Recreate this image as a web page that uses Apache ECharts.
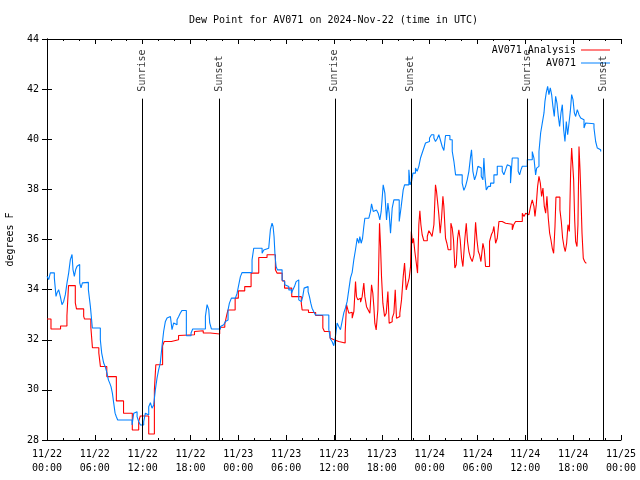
<!DOCTYPE html>
<html>
<head>
<meta charset="utf-8">
<script src="https://cdn.jsdelivr.net/npm/echarts@6/dist/echarts.min.js"></script>
<style>html,body{margin:0;padding:0;background:#fff}#c{width:640px;height:480px}</style>
</head>
<body>
<div id="c"></div>
<script>
// hours since 2024-11-22 00:00 UTC
const xTickDays = ['11/22','11/22','11/22','11/22','11/23','11/23','11/23','11/23','11/24','11/24','11/24','11/24','11/25'];
const xTickTimes = ['00:00','06:00','12:00','18:00','00:00','06:00','12:00','18:00','00:00','06:00','12:00','18:00','00:00'];

const redHours = [0,0.5,1.7,2.5,2.7,3.55,3.7,4.6,4.7,5.5,5.7,6.5,6.7,7.5,8.7,9.6,10.7,11.5,11.7,12.76,13.47,13.65,14.5,14.7,15.6,16.5,16.7,18.5,18.7,19.6,20.5,21.66,21.8,22.3,22.55,22.7,23.6,24.0,24.8,25.6,26.56,27.6,28.65,28.85,29.5,29.8,30.7,31.9,32.0,32.8,33.7,34.6,34.8,35.5,35.7,36.0,36.6,37.4,37.57,37.74,37.86,38.07,38.28,38.49,38.7,38.82,38.99,39.16,39.33,39.53,39.74,39.87,40.08,40.29,40.5,40.71,40.87,41.0,41.12,41.29,41.5,41.71,41.84,41.96,42.13,42.34,42.55,42.76,42.92,43.09,43.3,43.51,43.68,43.84,44.05,44.26,44.47,44.68,44.85,45.06,45.27,45.43,45.6,45.7,45.85,45.97,46.14,46.3,46.48,46.64,46.77,46.9,47.06,47.27,47.7,47.9,48.1,48.3,48.53,48.73,48.86,49.03,49.15,49.32,49.49,49.66,49.78,49.99,50.16,50.33,50.66,50.83,50.99,51.16,51.33,51.5,51.66,51.83,52.0,52.17,52.42,52.59,52.75,52.92,53.13,53.34,53.55,53.76,53.93,54.1,54.26,54.43,54.68,54.85,55.01,55.51,55.76,55.93,56.06,56.27,56.48,56.69,57.1,57.52,58.36,58.57,58.78,59.62,59.83,60.04,60.24,60.45,60.66,60.87,61.08,61.21,61.37,61.54,61.71,61.88,62.04,62.21,62.38,62.55,62.71,62.88,63.05,63.21,63.38,63.55,63.72,63.84,64.34,64.51,64.68,64.85,65.01,65.18,65.35,65.52,65.68,65.81,65.93,66.06,66.19,66.31,66.48,66.6,66.73,66.86,66.98,67.11,67.27,67.44,67.65];
const redValues = [32.83,32.43,32.55,32.96,34.16,33.47,33.23,32.93,32.83,32.5,31.68,31.47,30.93,30.53,29.56,29.07,28.4,28.73,28.96,28.24,30.0,31.0,31.76,31.93,32.0,32.17,32.2,32.33,32.36,32.27,32.23,32.4,32.5,32.62,32.99,33.19,33.66,33.95,34.12,34.66,35.28,35.39,34.79,34.66,34.35,34.06,33.72,33.45,33.19,33.09,32.97,32.47,32.33,32.07,32.0,31.93,31.87,32.27,33.4,33.2,33.06,33.1,32.86,33.12,34.32,33.72,33.6,33.66,33.5,33.72,34.26,33.72,33.32,33.19,33.06,34.19,33.86,33.32,32.66,32.39,33.2,36.65,35.72,34.52,33.46,32.93,33.06,33.92,32.66,32.72,32.86,33.06,33.99,32.86,32.93,33.06,33.59,34.52,35.06,33.99,34.26,34.46,34.92,36.32,35.85,36.05,35.52,35.12,34.66,36.59,37.15,36.59,36.19,35.95,36.12,36.35,36.25,36.12,36.59,38.18,37.92,37.38,36.99,36.25,36.85,37.72,37.32,36.05,35.85,35.59,36.65,36.45,35.99,34.86,34.99,36.05,36.39,35.99,35.26,34.92,36.05,36.65,35.92,35.52,35.26,35.12,35.39,36.69,35.99,35.52,35.39,35.12,35.85,35.59,34.92,35.92,36.21,36.32,36.52,35.85,36.05,36.72,36.65,36.61,36.39,36.61,36.72,37.05,36.92,37.05,36.99,37.05,37.32,37.58,37.32,36.92,37.38,38.12,38.52,38.25,37.72,38.05,37.32,37.05,37.72,36.85,36.25,35.99,35.65,35.45,36.52,37.69,37.18,36.72,36.05,35.72,35.52,35.85,36.59,36.32,38.65,39.65,39.05,38.38,36.78,35.92,35.72,36.59,39.71,38.78,37.65,36.25,35.25,35.12,35.05];

const blueHours = [0,0.21,0.42,0.92,1.13,1.26,1.46,1.67,1.88,2.09,2.3,2.51,2.72,2.93,3.14,3.26,3.43,3.6,3.77,3.93,4.1,4.27,4.44,4.6,5.19,5.44,5.69,6.69,6.86,7.11,7.32,7.53,7.7,7.87,8.03,8.2,8.37,8.54,8.7,8.87,10.67,10.88,11.09,11.3,11.51,11.72,12.13,12.34,12.55,12.76,12.97,13.17,13.38,13.59,13.8,14.0,14.21,14.42,14.63,14.85,15.06,15.27,15.48,15.68,15.89,16.1,16.31,16.52,16.73,16.94,17.48,18.07,18.28,19.87,20.08,20.29,20.41,20.62,21.75,21.96,22.17,22.38,22.55,22.71,22.88,23.13,23.63,23.84,24.05,24.26,24.47,25.72,25.93,26.98,27.19,27.4,27.81,28.02,28.23,28.36,28.48,28.61,28.74,28.9,29.49,29.66,29.82,29.99,30.33,30.66,30.83,31.04,31.25,31.41,31.58,31.71,31.91,32.08,32.25,32.5,32.75,32.92,33.09,33.25,33.46,33.67,35.35,35.55,35.76,35.97,36.18,36.39,36.6,36.81,37.02,37.23,37.44,37.65,37.86,38.07,38.28,38.49,38.7,38.91,39.12,39.24,39.41,39.58,39.74,39.87,40.37,40.58,40.71,40.92,41.12,41.33,41.54,41.75,41.92,42.17,42.38,42.59,42.76,42.92,43.09,43.3,43.51,44.18,44.43,44.68,44.85,45.39,45.55,45.73,45.9,46.22,46.43,46.64,46.85,47.06,47.27,47.48,47.69,47.98,48.23,48.53,48.73,48.94,49.15,49.36,49.57,49.78,49.99,50.54,50.83,51.04,51.25,52.08,52.29,52.5,52.71,52.92,53.13,53.25,53.42,53.63,53.84,54.05,54.26,54.47,54.68,54.8,54.93,55.1,55.35,55.64,56.06,56.48,57.1,57.31,57.52,57.73,57.93,58.14,58.36,59.1,59.28,59.45,59.62,60.24,60.87,61.08,61.29,61.42,61.58,61.71,61.92,62.13,62.34,62.46,62.63,62.8,62.96,63.13,63.3,63.46,63.63,63.8,63.97,64.14,64.3,64.47,64.64,64.81,64.97,65.14,65.31,65.48,65.64,65.81,65.98,66.15,66.31,66.52,66.73,66.94,67.15,67.36,67.57,67.78,68.61,68.82,69.03,69.24,69.45];
const blueValues = [34.53,34.4,34.67,34.47,33.73,33.87,34.0,33.73,33.4,33.53,33.8,34.27,34.67,35.2,35.4,34.8,34.53,34.8,34.93,35.0,34.27,34.07,34.27,34.29,34.0,33.33,32.47,32.0,31.47,31.07,30.91,30.67,30.4,30.27,30.13,29.87,29.47,29.07,28.93,28.8,28.6,29.07,29.13,28.93,28.73,28.6,28.73,29.07,29.0,29.33,29.49,29.27,29.4,30.0,30.47,30.8,31.07,31.73,32.33,32.73,32.87,32.93,33.0,32.4,32.67,32.6,32.8,32.93,33.07,33.17,32.16,32.27,32.43,32.93,33.4,33.2,32.67,32.43,32.53,32.6,32.53,32.73,32.79,33.19,33.46,33.66,33.72,33.85,34.19,34.52,34.68,35.19,35.65,35.45,35.58,35.65,35.68,36.39,36.65,36.52,36.12,35.32,34.92,34.79,34.39,34.32,34.19,34.12,33.99,33.85,33.99,34.12,34.32,34.39,33.59,33.52,33.46,33.72,34.06,34.12,33.92,33.72,33.46,33.26,33.12,32.99,32.4,32.03,31.93,31.76,32.13,32.67,32.53,32.4,32.73,33.07,33.27,33.53,34.0,34.47,34.69,35.2,35.6,36.05,35.85,36.12,35.85,36.05,36.52,36.85,36.92,37.12,37.42,37.12,37.18,37.12,37.05,36.78,37.12,38.18,37.85,36.78,37.45,37.05,36.25,37.25,37.58,36.72,37.32,37.98,38.18,38.78,38.18,38.32,38.65,38.85,38.72,38.92,39.25,39.45,39.65,39.85,39.91,40.05,40.18,40.05,39.91,40.02,40.18,39.95,39.71,39.55,40.15,39.98,39.52,39.12,38.58,38.25,37.96,38.12,38.38,38.72,39.31,39.58,38.72,38.38,38.58,38.92,38.85,38.52,38.38,39.25,38.52,37.98,38.12,38.25,38.58,38.92,38.72,38.58,38.78,38.98,38.92,38.25,39.25,38.72,38.58,38.78,38.92,39.18,39.51,39.25,38.58,38.85,38.92,39.51,40.25,40.65,41.05,41.51,41.87,42.11,41.78,42.05,41.78,41.31,40.91,41.71,41.44,40.91,40.51,41.05,41.38,40.38,39.91,40.71,40.18,40.65,41.11,41.78,41.58,41.05,40.91,41.18,40.98,40.85,40.78,40.45,40.65,40.62,40.45,39.91,39.65,39.58,39.51];

const sunHours = [12.0, 21.66, 36.1, 45.64, 60.24, 69.74];
const sunLabels = ['Sunrise', 'Sunset', 'Sunrise', 'Sunset', 'Sunrise', 'Sunset'];

const FONT = 'DejaVu Sans Mono';
const lineTop = 41.62, labelBase = 41.9;

const chart = echarts.init(document.getElementById('c'), null, {renderer: 'canvas'});
const axisCommon = {
  axisLine: {show: true, lineStyle: {color: '#000', width: 1}},
  axisTick: {show: true, inside: true, length: 5, lineStyle: {color: '#000'}},
  splitLine: {show: false}
};
const legendCommon = {
  orient: 'horizontal', align: 'right', right: 30, padding: 0,
  itemWidth: 29, itemHeight: 1, icon: 'rect',
  textStyle: {fontFamily: FONT, fontSize: 10, color: '#000'}
};
chart.setOption({
  animation: false,
  backgroundColor: '#fff',
  title: {
    text: 'Dew Point for AV071 on 2024-Nov-22 (time in UTC)',
    left: 189, top: 15, padding: 0,
    textStyle: {fontFamily: FONT, fontSize: 10, fontWeight: 'normal', color: '#000'}
  },
  legend: [
    Object.assign({}, legendCommon, {data: ['AV071 Analysis'], top: 45}),
    Object.assign({}, legendCommon, {data: ['AV071'], top: 58})
  ],
  grid: {left: 47, right: 19, top: 39, bottom: 40, containLabel: false, outerBoundsMode: 'none'},
  xAxis: [
    Object.assign({}, axisCommon, {
      type: 'value', min: 0, max: 72, interval: 6, position: 'bottom',
      minorTick: {show: true, splitNumber: 3, length: 2, lineStyle: {color: '#000'}},
      axisLabel: {
        margin: 7, fontFamily: FONT, fontSize: 10, color: '#000', lineHeight: 14,
        formatter: function (v) { const i = Math.round(v / 6); return xTickDays[i] + '\n' + xTickTimes[i]; }
      }
    }),
    Object.assign({}, axisCommon, {
      type: 'value', min: 0, max: 72, interval: 6, position: 'top',
      minorTick: {show: true, splitNumber: 3, length: 2, lineStyle: {color: '#000'}},
      axisLabel: {show: false}
    })
  ],
  yAxis: [
    Object.assign({}, axisCommon, {
      type: 'value', min: 28, max: 44, interval: 2, position: 'left',
      name: 'degrees F', nameLocation: 'middle', nameGap: 32, nameRotate: 90,
      nameTextStyle: {fontFamily: FONT, fontSize: 10, color: '#000'},
      axisLabel: {margin: 8, fontFamily: FONT, fontSize: 10, color: '#000'}
    }),
    Object.assign({}, axisCommon, {
      type: 'value', min: 28, max: 44, interval: 2, position: 'right',
      axisLabel: {show: false}
    })
  ],
  series: [
    {
      name: 'AV071 Analysis', type: 'line', step: 'end', symbol: 'none',
      lineStyle: {color: '#ff0000', width: 1.1}, itemStyle: {color: '#ff0000'},
      data: redHours.map((h, i) => [h, redValues[i]]), z: 3
    },
    {
      name: 'AV071', type: 'line', step: 'end', symbol: 'none',
      lineStyle: {color: '#0080ff', width: 1.1}, itemStyle: {color: '#0080ff'},
      data: blueHours.map((h, i) => [h, blueValues[i]]), z: 4
    },
    {
      name: 'sun', type: 'scatter', symbolSize: 1, itemStyle: {color: 'rgba(0,0,0,0)'},
      data: sunHours.map((h, i) => ({value: [h, labelBase], name: sunLabels[i]})),
      label: {show: true, position: 'inside', rotate: 90, align: 'left', verticalAlign: 'middle',
              formatter: p => p.name, fontFamily: FONT, fontSize: 10, color: '#000'},
      markLine: {
        silent: true, symbol: 'none', animation: false,
        lineStyle: {color: '#000', width: 1, type: 'solid'},
        label: {show: false},
        data: sunHours.map(h => [{coord: [h, 28]}, {coord: [h, lineTop]}])
      },
      z: 5
    }
  ]
});
</script>
</body>
</html>
